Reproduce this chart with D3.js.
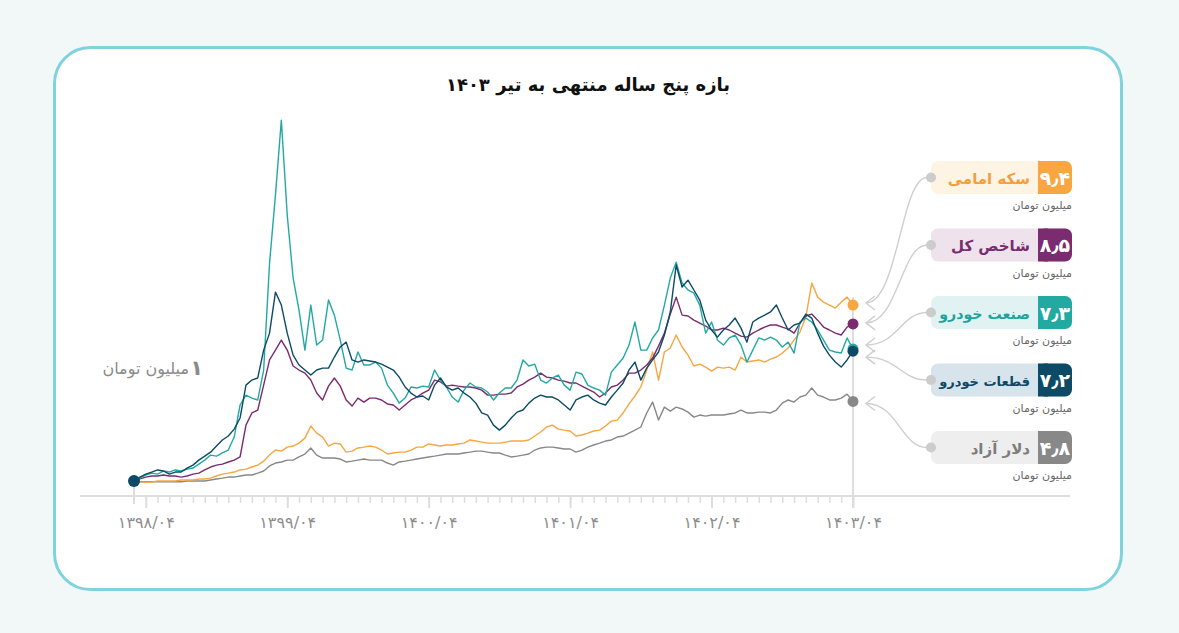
<!DOCTYPE html>
<html lang="fa">
<head>
<meta charset="utf-8">
<script src="https://cdn.jsdelivr.net/npm/d3@7"></script>
<style>
  html, body { margin: 0; padding: 0; background: #f2f7f7; }
  body { width: 1179px; height: 633px; overflow: hidden; font-family: "DejaVu Sans", sans-serif; }
</style>
</head>
<body>
<script>
// values: 1 million toman invested at 1398/03,
// sampled every half month up to 1403/04
var tickLabels = ["۱۳۹۸/۰۴", "۱۳۹۹/۰۴", "۱۴۰۰/۰۴", "۱۴۰۱/۰۴", "۱۴۰۲/۰۴", "۱۴۰۳/۰۴"];
var tickMonths = [0, 12, 24, 36, 48, 60];
var seriesNames = ["سکه امامی", "شاخص کل", "صنعت خودرو", "قطعات خودرو", "دلار آزاد"];
var lastValues = ["۹٫۴", "۸٫۵", "۷٫۳", "۷٫۲", "۴٫۸"];
var startMonth = -1, stepMonth = 0.5;

var coin = [1.00,0.95,0.95,0.95,1.00,1.00,1.00,1.00,1.05,1.05,
  1.05,1.10,1.10,1.14,1.24,1.33,1.38,1.43,1.53,1.57,
  1.67,1.76,1.95,2.24,2.48,2.43,2.62,2.67,2.81,3.05,
  3.63,3.29,3.10,2.67,2.81,2.77,2.38,2.43,2.58,2.62,
  2.67,2.62,2.48,2.29,2.34,2.38,2.38,2.48,2.62,2.62,
  2.77,2.72,2.67,2.72,2.72,2.77,2.81,2.96,2.91,2.86,
  2.81,2.81,2.81,2.86,2.91,2.91,2.91,2.96,3.15,3.34,
  3.58,3.67,3.48,3.43,3.39,3.15,3.20,3.29,3.39,3.43,
  3.63,3.86,3.91,4.25,4.68,5.06,5.49,6.30,7.16,5.82,
  7.16,7.35,7.97,7.40,7.01,6.49,6.58,6.44,6.25,6.44,
  6.39,6.44,6.30,6.92,6.68,6.73,6.78,6.68,6.82,6.92,
  7.11,7.35,7.73,8.11,8.83,10.45,9.78,9.54,9.40,9.26,
  9.54,9.78,9.40];

var totalIndex = [1.00,1.10,1.19,1.24,1.24,1.29,1.24,1.24,1.19,1.24,
  1.33,1.38,1.53,1.67,1.76,1.81,1.91,2.00,2.15,3.67,
  4.25,4.39,5.58,6.78,7.25,7.73,7.25,6.49,6.30,6.15,
  5.82,5.20,4.87,5.53,5.92,5.53,4.87,4.58,4.96,4.77,
  4.96,4.96,4.87,4.68,4.63,4.39,4.63,4.87,5.01,5.20,
  5.34,5.82,5.73,5.53,5.58,5.53,5.49,5.49,5.44,5.34,
  5.10,5.10,5.15,5.15,5.20,5.49,5.63,5.82,5.96,6.15,
  5.96,5.92,5.82,5.77,5.68,5.68,5.53,5.39,5.25,5.01,
  5.20,5.49,5.58,5.82,6.15,6.15,6.30,6.54,6.87,7.44,
  8.06,8.97,9.78,8.92,8.88,8.68,8.54,8.40,8.21,8.21,
  8.30,8.21,8.06,7.92,7.87,8.06,8.21,8.35,8.45,8.45,
  8.35,8.25,8.06,8.54,8.88,8.97,8.68,8.35,8.21,8.06,
  7.97,8.35,8.50];

var autoIndustry = [1.00,1.14,1.29,1.38,1.33,1.48,1.43,1.53,1.48,1.57,
  1.62,1.81,2.00,2.24,2.19,2.34,2.48,3.10,4.63,5.10,
  4.96,4.87,6.30,11.40,14.65,18.23,13.70,10.69,9.16,7.25,
  9.40,7.49,7.73,9.64,8.92,7.73,6.39,6.30,7.16,6.54,
  6.54,6.68,6.39,5.58,5.20,4.72,4.96,5.49,5.44,5.53,
  5.49,6.30,5.82,5.49,5.01,4.77,5.34,5.68,5.49,5.44,
  5.25,4.87,5.20,5.44,5.44,5.82,6.78,6.49,6.58,5.82,
  5.68,5.92,6.06,5.58,5.34,6.20,6.11,5.58,5.44,5.34,
  5.10,6.20,6.54,6.87,7.49,8.59,7.25,7.25,7.83,8.21,
  9.40,10.69,11.45,10.45,10.12,9.97,9.40,8.06,8.59,7.73,
  7.49,7.83,7.97,7.49,6.68,7.25,7.83,7.73,7.87,7.73,
  7.40,7.63,7.11,8.59,8.78,8.59,8.21,7.73,7.25,7.16,
  7.11,7.83,7.30];

var autoParts = [1.00,1.19,1.33,1.43,1.53,1.48,1.33,1.43,1.43,1.62,
  1.76,2.00,2.19,2.38,2.67,2.96,3.15,3.48,4.01,5.58,
  5.82,5.92,7.25,8.06,10.02,9.40,8.06,7.01,6.54,6.30,
  6.06,6.30,6.39,6.39,6.92,7.40,7.63,6.78,6.68,6.78,
  6.73,6.68,6.58,6.44,6.30,5.96,5.49,5.20,5.01,5.06,
  4.87,5.58,5.92,5.49,5.34,5.44,5.20,5.01,4.72,4.25,
  4.15,3.67,3.43,3.67,4.01,4.29,4.39,4.72,4.96,5.10,
  5.01,5.01,4.87,4.63,4.39,4.87,5.01,5.10,4.87,4.72,
  4.63,5.01,5.34,5.68,6.30,6.68,5.82,6.39,6.78,7.16,
  7.97,9.07,11.31,10.26,10.59,10.12,9.64,8.68,8.21,7.87,
  8.21,8.45,8.78,8.30,7.63,8.59,8.78,8.92,9.07,9.40,
  8.78,8.21,8.45,8.54,8.97,8.78,8.06,7.44,7.01,6.68,
  6.44,6.78,7.20];

var dollar = [1.00,0.97,0.97,0.97,0.97,0.97,0.97,0.97,0.97,1.00,
  1.00,1.00,1.00,1.05,1.10,1.14,1.19,1.19,1.24,1.29,
  1.29,1.38,1.48,1.72,1.86,1.91,2.00,2.00,2.15,2.29,
  2.58,2.24,2.10,2.10,2.10,2.05,1.91,1.95,2.00,2.05,
  2.00,2.00,2.00,1.86,1.76,1.91,1.95,2.00,2.05,2.10,
  2.15,2.19,2.24,2.29,2.29,2.29,2.34,2.38,2.43,2.43,
  2.38,2.34,2.34,2.24,2.15,2.19,2.24,2.29,2.48,2.58,
  2.62,2.62,2.58,2.53,2.53,2.38,2.48,2.62,2.72,2.81,
  2.91,2.96,3.10,3.15,3.29,3.43,3.58,4.25,4.77,3.91,
  4.53,4.34,4.53,4.44,4.29,4.05,4.15,4.10,4.15,4.15,
  4.15,4.20,4.25,4.39,4.25,4.25,4.29,4.29,4.25,4.39,
  4.72,4.87,4.77,5.01,5.10,5.44,5.10,5.01,4.87,4.87,
  4.96,5.15,4.80];

// styling
var lineColors = ["#f7a642", "#7b2b6f", "#22a9a2", "#0c4a65", "#888888"];
var tintColors = ["#fef4e4", "#eee2ec", "#e0f3f2", "#d8e4eb", "#eeeeef"];
var textColors = ["#f4a03a", "#7b2b6f", "#1fa39c", "#0c4a65", "#7d7d7d"];
var arrowShift = [-2, -1, -4, 6, 2];
var allSeries = [coin, totalIndex, autoIndustry, autoParts, dollar];

var W = 1179, H = 633;
var svg = d3.select("body").append("svg")
    .attr("width", W)
    .attr("height", H);

// card
svg.append("rect")
    .attr("x", 54.5).attr("y", 47.5)
    .attr("width", 1067).attr("height", 542)
    .attr("rx", 36)
    .attr("fill", "#fff")
    .attr("stroke", "#7fd3dd")
    .attr("stroke-width", 3);

svg.append("text")
    .attr("x", 588).attr("y", 91)
    .attr("text-anchor", "middle")
    .attr("font-size", 18)
    .attr("font-weight", "bold")
    .attr("fill", "#111")
    .text("بازه پنج ساله منتهی به تیر ۱۴۰۳");

// scales
var x = d3.scaleLinear().domain([-1, 60]).range([134, 853]);
var y = d3.scaleLinear().domain([0, 20]).range([502, 83]);
var axisY = 496;

// base line
svg.append("line")
    .attr("x1", 80).attr("x2", 1070)
    .attr("y1", axisY).attr("y2", axisY)
    .attr("stroke", "#dedede")
    .attr("stroke-width", 2);

// minor monthly ticks
var minor = svg.append("g")
    .attr("transform", "translate(0," + (axisY + 1) + ")")
    .call(d3.axisBottom(x).tickValues(d3.range(1, 60)).tickSize(6).tickFormat(""));
minor.select(".domain").remove();
minor.selectAll("line").attr("stroke", "#dedede").attr("stroke-width", 1.5);

// yearly ticks with labels
var major = svg.append("g")
    .attr("transform", "translate(0," + (axisY + 1) + ")")
    .call(d3.axisBottom(x).tickValues(tickMonths).tickSize(11).tickPadding(9)
        .tickFormat(function(d, i) { return tickLabels[i]; }));
major.select(".domain").remove();
major.selectAll("line").attr("stroke", "#dedede").attr("stroke-width", 2);
major.selectAll("text")
    .attr("fill", "#8d8d8d")
    .attr("font-size", 16)
    .attr("font-family", "'DejaVu Sans', sans-serif");

// start / end guides
var lastY = allSeries.map(function(s) { return y(s[s.length - 1]); });
svg.append("line")
    .attr("x1", x(startMonth)).attr("x2", x(startMonth))
    .attr("y1", y(1)).attr("y2", axisY + 8)
    .attr("stroke", "#dedede").attr("stroke-width", 2);
svg.append("line")
    .attr("x1", x(60)).attr("x2", x(60))
    .attr("y1", d3.min(lastY) - 8).attr("y2", axisY + 12)
    .attr("stroke", "#dedede").attr("stroke-width", 2);

// the lines
var valueline = d3.line()
    .x(function(d, i) { return x(startMonth + i * stepMonth); })
    .y(function(d) { return y(d); });

var drawOrder = [4, 0, 1, 2, 3];
drawOrder.forEach(function(k) {
  svg.append("path")
      .datum(allSeries[k])
      .attr("fill", "none")
      .attr("stroke", lineColors[k])
      .attr("stroke-width", 1.4)
      .attr("stroke-linejoin", "round")
      .attr("d", valueline);
});

// end dots
allSeries.forEach(function(s, k) {
  svg.append("circle")
      .attr("cx", x(60)).attr("cy", y(s[s.length - 1]))
      .attr("r", 5.5)
      .attr("fill", lineColors[k]);
});
// start dot
svg.append("circle")
    .attr("cx", x(startMonth)).attr("cy", y(autoParts[0]))
    .attr("r", 6)
    .attr("fill", lineColors[3]);

// "1 million toman" note
svg.append("text")
    .attr("x", 203).attr("y", 375)
    .attr("text-anchor", "end")
    .attr("font-size", 21)
    .attr("font-weight", "bold")
    .attr("fill", "#8a8a8a")
    .text("۱");
svg.append("text")
    .attr("x", 189).attr("y", 374)
    .attr("text-anchor", "end")
    .attr("font-size", 16)
    .attr("fill", "#8a8a8a")
    .text("میلیون تومان");

// legend boxes with connectors
var boxX = 931, boxW = 141, boxH = 33, sqW = 34;
seriesNames.forEach(function(name, k) {
  var top = 161 + k * 67.5;
  var cy = top + boxH / 2;
  var g = svg.append("g");

  var ax = 866, ay = lastY[k] + arrowShift[k];
  var x0 = boxX - 4;
  g.append("path")
      .attr("d", "M" + x0 + "," + cy + " C" + (x0 - 26) + "," + cy + " " + (ax + 32) + "," + ay + " " + ax + "," + ay)
      .attr("fill", "none")
      .attr("stroke", "#cfcfcf")
      .attr("stroke-width", 1.4);
  g.append("path")
      .attr("d", "M" + (ax + 9) + "," + (ay - 7) + " L" + ax + "," + ay + " L" + (ax + 9) + "," + (ay + 7))
      .attr("fill", "none")
      .attr("stroke", "#cfcfcf")
      .attr("stroke-width", 1.4);

  g.append("rect")
      .attr("x", boxX).attr("y", top)
      .attr("width", boxW).attr("height", boxH)
      .attr("rx", 7)
      .attr("fill", tintColors[k]);
  g.append("rect")
      .attr("x", boxX + boxW - sqW).attr("y", top)
      .attr("width", sqW).attr("height", boxH)
      .attr("rx", 7)
      .attr("fill", lineColors[k]);
  g.append("rect")
      .attr("x", boxX + boxW - sqW).attr("y", top)
      .attr("width", 10).attr("height", boxH)
      .attr("fill", lineColors[k]);
  g.append("circle")
      .attr("cx", boxX).attr("cy", cy)
      .attr("r", 5)
      .attr("fill", "#cccccc");

  g.append("text")
      .attr("x", boxX + boxW - sqW / 2).attr("y", cy + 7)
      .attr("text-anchor", "middle")
      .attr("font-size", 19)
      .attr("font-weight", "bold")
      .attr("fill", "#fff")
      .text(lastValues[k]);
  var label = g.append("text")
      .attr("x", boxX + boxW - sqW - 8).attr("y", cy + 6)
      .attr("text-anchor", "end")
      .attr("font-size", 15)
      .attr("font-weight", "bold")
      .attr("fill", textColors[k])
      .text(name);
  // keep the label inside its box
  var room = boxW - sqW - 16;
  var len = label.node().getComputedTextLength();
  if (len > room) label.attr("font-size", 15 * room / len);
  g.append("text")
      .attr("x", boxX + boxW).attr("y", top + boxH + 15)
      .attr("text-anchor", "end")
      .attr("font-size", 11)
      .attr("fill", "#666")
      .text("میلیون تومان");
});
</script>
</body>
</html>
